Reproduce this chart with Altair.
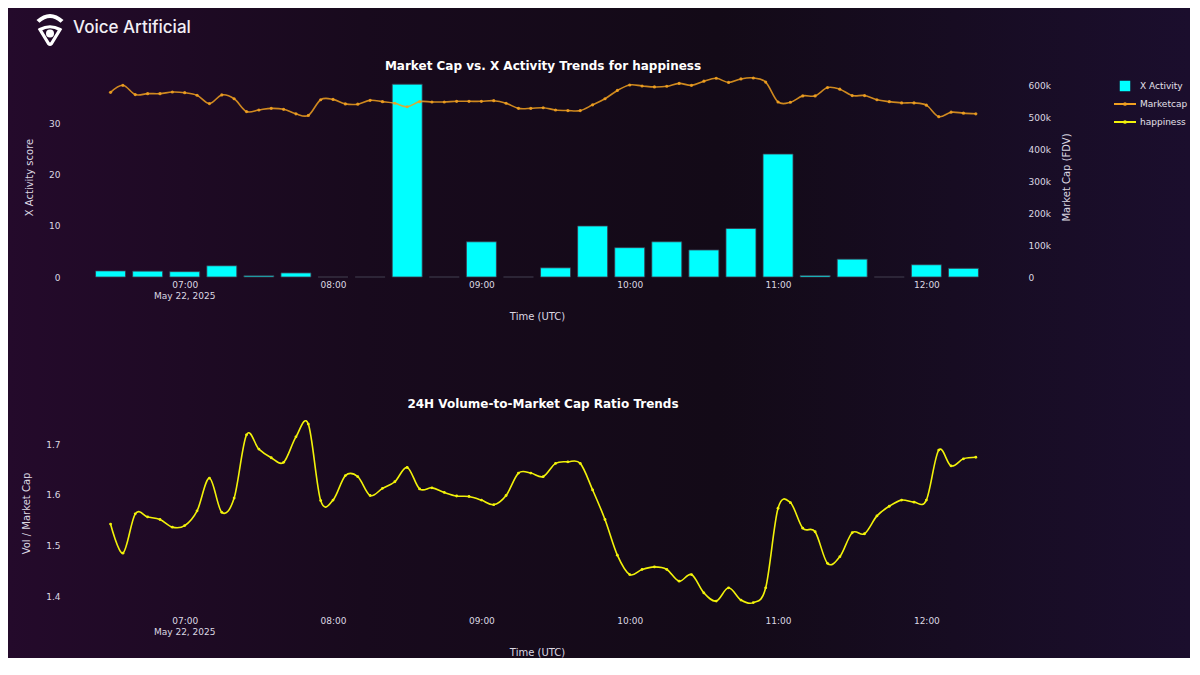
import altair as alt
import pandas as pd

# ---------------- data ----------------
start_time = "2025-05-22 06:30"

# X Activity score, one bar every 15 minutes from 06:30
x_activity = [1.2, 1.15, 1.05, 2.2, 0.25, 0.8, 0, 0, 37.8, 0, 6.9, 0,
              1.8, 10.0, 5.75, 6.9, 5.3, 9.5, 24.1, 0.3, 3.5, 0, 2.4, 1.7]

# Market cap (FDV), every 5 minutes from 06:30
market_cap = [577000, 599000, 570000, 573000, 573000, 578000, 576000, 568000, 542000, 569000,
              557000, 517000, 522000, 527000, 524000, 510000, 505000, 554000, 555000, 541000,
              540000, 552000, 548000, 543000, 532000, 548000, 547000, 547000, 549000, 549000,
              549000, 551000, 543000, 527000, 527000, 529000, 522000, 520000, 520000, 538000,
              557000, 583000, 600000, 597000, 594000, 596000, 605000, 599000, 612000, 621000,
              608000, 619000, 622000, 609000, 547000, 546000, 566000, 566000, 592000, 587000,
              567000, 567000, 554000, 548000, 544000, 544000, 537000, 501000, 515000, 512000,
              510000]

# 24H volume / market cap ratio, every 5 minutes from 06:30
vol_to_mcap = [1.543, 1.486, 1.563, 1.557, 1.552, 1.537, 1.540, 1.569, 1.633, 1.566,
               1.594, 1.718, 1.690, 1.673, 1.664, 1.714, 1.739, 1.589, 1.590, 1.638,
               1.636, 1.599, 1.613, 1.626, 1.654, 1.612, 1.614, 1.605, 1.598, 1.597,
               1.590, 1.581, 1.599, 1.643, 1.643, 1.636, 1.662, 1.665, 1.662, 1.610,
               1.552, 1.482, 1.444, 1.454, 1.459, 1.454, 1.431, 1.444, 1.408, 1.392,
               1.418, 1.394, 1.389, 1.418, 1.574, 1.585, 1.535, 1.528, 1.466, 1.479,
               1.526, 1.524, 1.559, 1.578, 1.590, 1.586, 1.590, 1.688, 1.657, 1.671,
               1.674]

series_names = ["X Activity", "Marketcap", "happiness"]
series_colors = ["#00ffff", "#f0a020", "#f2f20a"]

bar_times = pd.date_range(start_time, periods=len(x_activity), freq="15min")
line_times = pd.date_range(start_time, periods=len(market_cap), freq="5min")

bars_df = pd.DataFrame({"time": bar_times, "x_activity": x_activity})
mcap_df = pd.DataFrame({"time": line_times, "marketcap": market_cap})
ratio_df = pd.DataFrame({"time": line_times, "ratio": vol_to_mcap})
legend_df = pd.DataFrame({"series": series_names})
one_row = pd.DataFrame({"k": [0]})

# ---------------- styling ----------------
FONT = "DejaVu Sans"
LABEL = "#dcd8e2"
CYAN, ORANGE, YELLOW = series_colors
W, H = 890, 200

SHIELD_PATH = "M-1,-0.55Q0,-1.1 1,-0.55L0.15,0.85Q0,1 -0.15,0.85Z"
ARC_PATH = "M-0.751,-0.66Q0,-1.33 0.751,-0.66L0.586,-0.515Q0,-1.04 -0.586,-0.515Z"

BG_STOPS = [alt.GradientStop(color="#240a2b", offset=0),
            alt.GradientStop(color="#180a1d", offset=0.3),
            alt.GradientStop(color="#130a17", offset=0.6),
            alt.GradientStop(color="#1b0e2d", offset=1)]


def bg_rect(y_top, y_bottom):
    return alt.Chart(one_row).mark_rect(
        fill=alt.Gradient(gradient="linear", x1=0, y1=0, x2=1, y2=0, stops=BG_STOPS)
    ).encode(x=alt.value(-84), x2=alt.value(1098), y=alt.value(y_top), y2=alt.value(y_bottom))


def panel_title(text, y):
    return alt.Chart(one_row).mark_text(
        text=text, font=FONT, fontSize=12, fontWeight="bold", color="#ffffff",
        align="center", baseline="middle"
    ).encode(x=alt.value(W / 2 + 6), y=alt.value(y))


def dt(h, m, s=0):
    return alt.DateTime(year=2025, month=5, date=22, hours=h, minutes=m, seconds=s)


x_scale = alt.Scale(domain=[dt(6, 22, 30), dt(12, 22, 30)], padding=0)
hour_ticks = [dt(h, 0) for h in range(7, 13)]
x_axis = alt.Axis(title="Time (UTC)", values=hour_ticks, format="%H:%M", zindex=1,
                  labelPadding=3, titlePadding=22, labelFlush=False, labelOverlap=False)
X = alt.X("time:T", scale=x_scale, axis=x_axis)


def date_label():
    return alt.Chart(one_row).mark_text(
        text="May 22, 2025", font=FONT, fontSize=9, color=LABEL, baseline="middle"
    ).encode(x=alt.X(datum=dt(7, 0), type="temporal", scale=x_scale), y=alt.value(H + 19))


# ---------------- logo (decoration) ----------------
logo_arc = alt.Chart(one_row).mark_point(
    shape=ARC_PATH, size=1296, filled=True, color="white", opacity=1
).encode(x=alt.value(-42), y=alt.value(-45))

logo_shield = alt.Chart(one_row).mark_point(
    shape=SHIELD_PATH, size=400, filled=False, stroke="white", strokeWidth=3.2, opacity=1
).encode(x=alt.value(-42), y=alt.value(-42))

logo_dot = alt.Chart(one_row).mark_point(
    shape="circle", size=64, filled=True, color="white", opacity=1
).encode(x=alt.value(-42), y=alt.value(-43.5))

logo_text = alt.Chart(one_row).mark_text(
    text="Voice Artificial", font="Inter", fontSize=17, fontWeight=500,
    color="#f2eff5", align="left", baseline="middle"
).encode(x=alt.value(-19), y=alt.value(-49))

# ---------------- top panel ----------------
bars = alt.Chart(bars_df).mark_bar(
    size=30, color=CYAN, stroke="#3b3548", strokeWidth=0.8
).encode(
    x=X,
    y=alt.Y("x_activity:Q", scale=alt.Scale(domain=[0, 39.2], nice=False),
            axis=alt.Axis(title="X Activity score", values=[0, 10, 20, 30], zindex=1,
                          labelPadding=32, titlePadding=14)),
)

mcap_line = alt.Chart(mcap_df).mark_line(
    color=ORANGE, strokeWidth=1.6, interpolate="cardinal", opacity=0.85,
    point=alt.OverlayMarkDef(filled=True, size=10, color=ORANGE, opacity=0.9)
).encode(
    x=X,
    y=alt.Y("marketcap:Q", scale=alt.Scale(domain=[0, 625000], nice=False),
            axis=alt.Axis(orient="right", title="Market Cap (FDV)", titleAngle=270, zindex=1,
                          values=[0, 100000, 200000, 300000, 400000, 500000, 600000],
                          labelExpr="datum.value == 0 ? '0' : format(datum.value / 1000, 'd') + 'k'",
                          labelPadding=46, titlePadding=21)),
)

# legend built from the series list through point/colour scales
leg_y = alt.Y("series:N", scale=alt.Scale(type="point", domain=series_names, range=[9, 45],
                                          padding=0), axis=None)
leg_color = alt.Color("series:N", scale=alt.Scale(domain=series_names, range=series_colors),
                      legend=None)
leg_base = alt.Chart(legend_df)
leg_square = leg_base.mark_square(size=110, opacity=1).encode(
    x=alt.value(1033), y=leg_y, color=leg_color
).transform_filter(alt.datum.series == series_names[0])
leg_rule = leg_base.mark_rule(strokeWidth=2).encode(
    x=alt.value(1022), x2=alt.value(1044), y=leg_y, color=leg_color
).transform_filter(alt.datum.series != series_names[0])
leg_dot = leg_base.mark_circle(size=14, opacity=1).encode(
    x=alt.value(1033), y=leg_y, color=leg_color
).transform_filter(alt.datum.series != series_names[0])
leg_text = leg_base.mark_text(
    align="left", baseline="middle", font=FONT, fontSize=9, color="#e4e0ea"
).encode(x=alt.value(1048), y=leg_y, text="series:N")

top = alt.layer(
    bg_rect(-69, 250),
    logo_arc, logo_shield, logo_dot, logo_text,
    panel_title("Market Cap vs. X Activity Trends for happiness", -11),
    bars, mcap_line, date_label(),
    leg_square, leg_rule, leg_dot, leg_text
).resolve_scale(y="independent").properties(width=W, height=H)

# ---------------- bottom panel ----------------
ratio_line = alt.Chart(ratio_df).mark_line(
    color=YELLOW, strokeWidth=1.6, interpolate="cardinal",
    point=alt.OverlayMarkDef(filled=True, size=8, color=YELLOW)
).encode(
    x=X,
    y=alt.Y("ratio:Q", scale=alt.Scale(domain=[1.3686, 1.7608], nice=False, zero=False),
            axis=alt.Axis(title="Vol / Market Cap", values=[1.4, 1.5, 1.6, 1.7], zindex=1,
                          format=".1f", labelPadding=32, titlePadding=14)),
)

bottom = alt.layer(
    bg_rect(-86, 245),
    panel_title("24H Volume-to-Market Cap Ratio Trends", -9),
    ratio_line, date_label()
).properties(width=W, height=H)

chart = alt.vconcat(top, bottom, spacing=0).properties(
    padding=0, background="#160a1b"
).configure_view(strokeWidth=0).configure_axis(
    domain=False, ticks=False, grid=False,
    labelFont=FONT, labelFontSize=9, labelColor=LABEL,
    titleFont=FONT, titleFontSize=10, titleFontWeight="normal", titleColor=LABEL,
)

chart.save("out.html", embed_options={"renderer": "svg", "actions": False})
